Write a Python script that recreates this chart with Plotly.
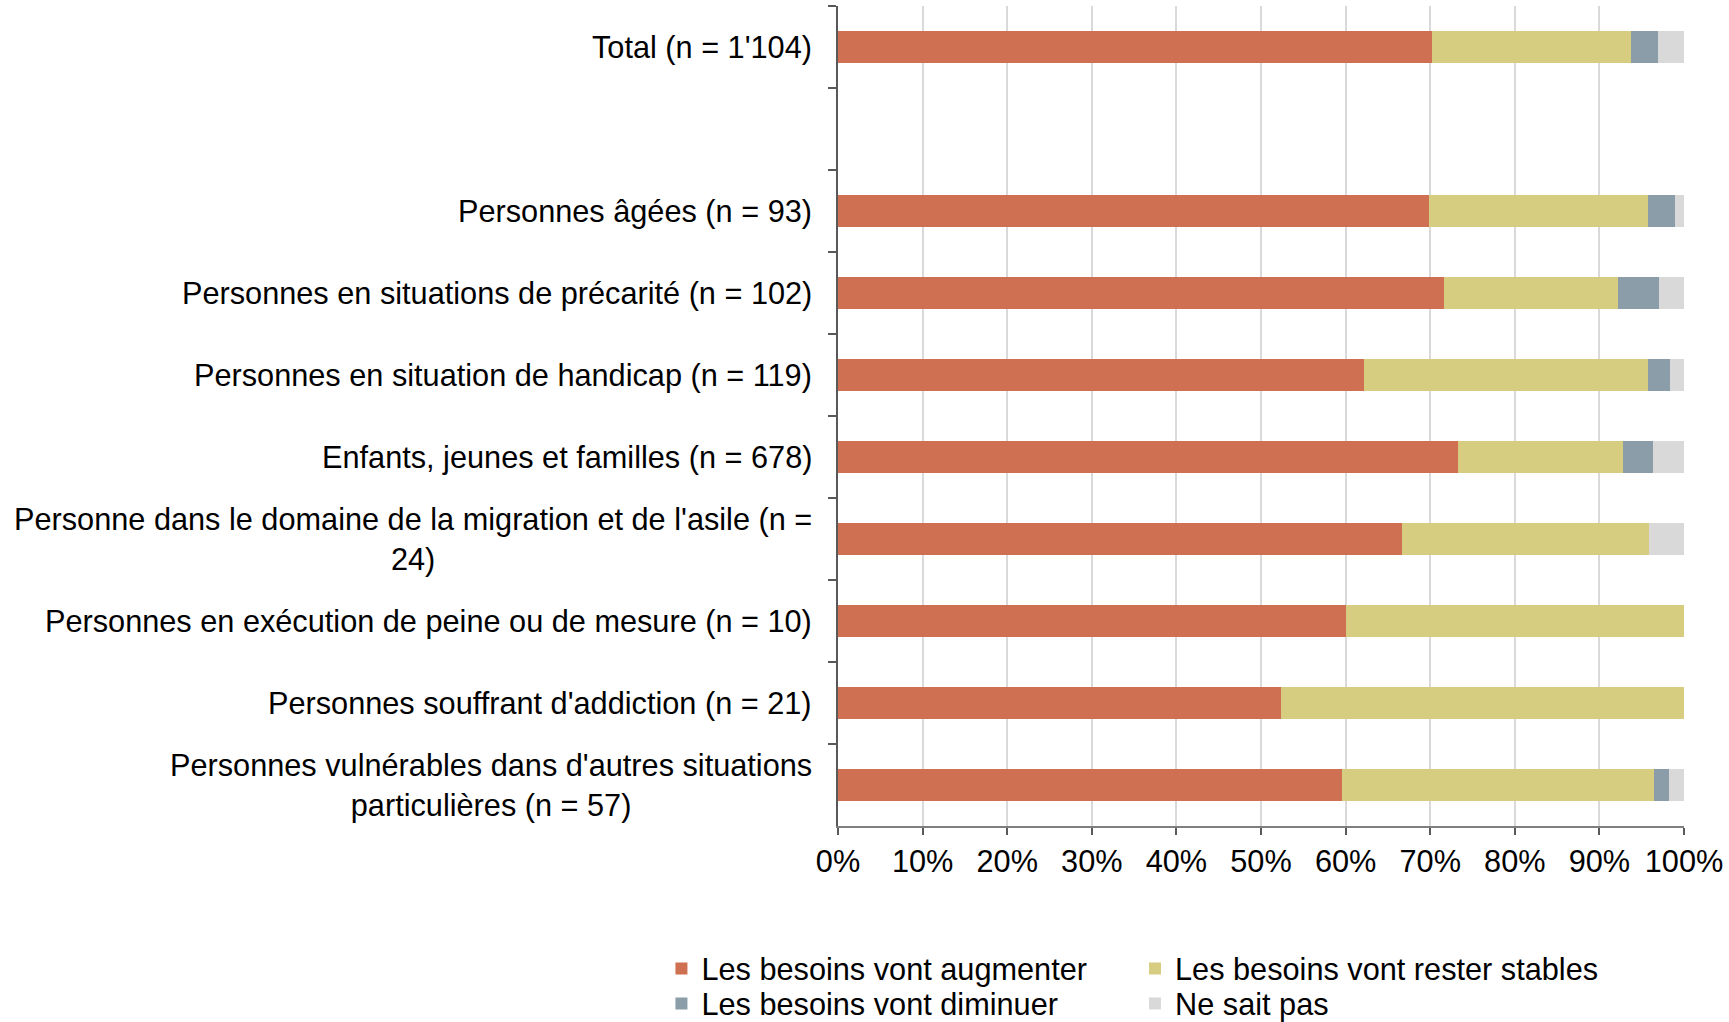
import plotly.graph_objects as go

categories = [
    "Total (n = 1'104)",
    " ",
    "Personnes âgées (n = 93)",
    "Personnes en situations de précarité (n = 102)",
    "Personnes en situation de handicap (n = 119)",
    "Enfants, jeunes et familles (n = 678)",
    "Personne dans le domaine de la migration et de l'asile (n =<br>24)",
    "Personnes en exécution de peine ou de mesure (n = 10)",
    "Personnes souffrant d'addiction (n = 21)",
    "Personnes vulnérables dans d'autres situations<br>particulières (n = 57)",
]

augmenter = [0.702, None, 0.699, 0.716, 0.622, 0.733, 0.667, 0.600, 0.524, 0.596]
stables   = [0.235, None, 0.258, 0.206, 0.336, 0.195, 0.292, 0.400, 0.476, 0.368]
diminuer  = [0.032, None, 0.032, 0.049, 0.025, 0.035, 0.0,   0.0,   0.0,   0.018]
nsp       = [0.031, None, 0.011, 0.029, 0.017, 0.037, 0.041, 0.0,   0.0,   0.018]

series = [
    ("Les besoins vont augmenter", augmenter, "#D07053", "legend"),
    ("Les besoins vont rester stables", stables, "#D6CD81", "legend2"),
    ("Les besoins vont diminuer", diminuer, "#8A9DA8", "legend3"),
    ("Ne sait pas", nsp, "#D9D9D9", "legend4"),
]

xticks = [i / 10 for i in range(11)]
xticklabels = [f"{i*10}%" for i in range(11)]

FONT = "Liberation Sans, Arial, sans-serif"
FS = 30.7

fig = go.Figure()
for name, vals, color, lg in series:
    fig.add_trace(go.Bar(
        y=categories, x=vals, name=name, orientation="h",
        marker=dict(color=color, line=dict(width=0)),
        legend=lg,
    ))

for cat in categories:
    if cat.strip():
        fig.add_annotation(
            x=0, xref="paper", y=cat, yref="y",
            text=cat, showarrow=False, xanchor="right", yanchor="middle",
            align="center", xshift=-24,
            font=dict(family=FONT, size=FS, color="#000000"),
        )


def legend_box(x, y):
    return dict(
        x=x, y=y, xanchor="left", yanchor="top",
        orientation="v", traceorder="normal",
        font=dict(family=FONT, size=FS, color="#000000"),
        itemwidth=30, tracegroupgap=0, bgcolor="rgba(0,0,0,0)",
    )


fig.update_layout(
    width=1729, height=1022,
    margin=dict(l=838, r=45, t=6, b=196, autoexpand=False),
    paper_bgcolor="white", plot_bgcolor="white",
    barmode="stack", bargap=0.6,
    font=dict(family=FONT, size=FS, color="#000000"),
    showlegend=True,
    legend=legend_box(-0.2087, -0.1415),
    legend2=legend_box(0.3511, -0.1415),
    legend3=legend_box(-0.2087, -0.1841),
    legend4=legend_box(0.3511, -0.1841),
    xaxis=dict(
        range=[0, 1], tickvals=xticks, ticktext=xticklabels,
        showgrid=True, gridcolor="#D9D9D9", gridwidth=2,
        showline=True, linecolor="#7F7F7F", linewidth=1.5,
        ticks="outside", ticklen=7, tickcolor="#595959", tickwidth=1.5,
        ticklabelstandoff=0,
        zeroline=False, fixedrange=True,
        tickfont=dict(family=FONT, size=FS, color="#000000"),
    ),
    yaxis=dict(
        type="category", categoryorder="array", categoryarray=categories,
        autorange="reversed", showticklabels=False,
        showline=True, linecolor="#595959", linewidth=1.5,
        ticks="outside", tickson="boundaries", ticklen=8,
        tickcolor="#595959", tickwidth=1.5,
        showgrid=False, zeroline=False, fixedrange=True,
    ),
)

fig.write_html(
    "out.html",
    config={"displayModeBar": False},
    post_script="document.body.style.margin='0';",
)
